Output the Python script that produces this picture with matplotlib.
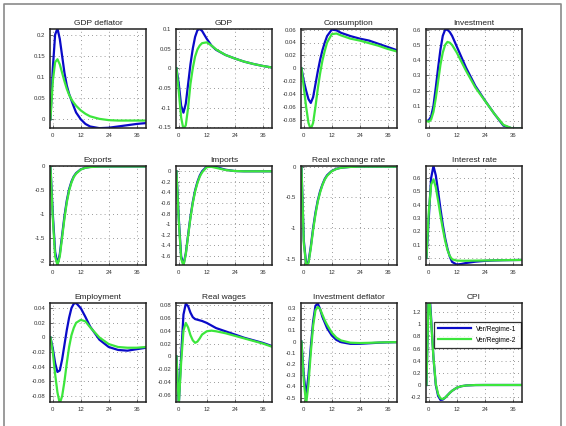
import matplotlib.pyplot as plt
from matplotlib.ticker import FuncFormatter
import numpy as np

plt.rcParams['font.family'] = ['Liberation Sans', 'DejaVu Sans']

# horizons (quarters)
t = [-1, 0, 1, 2, 3, 4, 5, 6, 7, 8, 9, 10, 12, 14, 16, 20, 24, 28, 32, 36, 40]

titles = ["GDP deflator", "GDP", "Consumption", "Investment",
          "Exports", "Imports", "Real exchange rate", "Interest rate",
          "Employment", "Real wages", "Investment deflator", "CPI"]

# regime 1 (blue)
reg1 = [
    [0, 0.12, 0.20, 0.215, 0.19, 0.15, 0.11, 0.08, 0.06, 0.045, 0.03, 0.016, 0.0, -0.011, -0.017, -0.021, -0.02, -0.017, -0.014, -0.011, -0.009],
    [0, -0.04, -0.095, -0.113, -0.09, -0.04, 0.01, 0.05, 0.08, 0.097, 0.1, 0.095, 0.075, 0.058, 0.047, 0.034, 0.025, 0.017, 0.011, 0.006, 0.002],
    [0, -0.02, -0.035, -0.048, -0.054, -0.045, -0.025, -0.005, 0.013, 0.028, 0.04, 0.05, 0.06, 0.059, 0.055, 0.05, 0.046, 0.043, 0.038, 0.033, 0.028],
    [0, 0.005, 0.03, 0.1, 0.22, 0.35, 0.47, 0.56, 0.6, 0.6, 0.585, 0.56, 0.49, 0.42, 0.35, 0.23, 0.137, 0.05, -0.03, -0.05, -0.05],
    [0, -1.0, -1.8, -2.07, -1.85, -1.45, -1.05, -0.72, -0.48, -0.32, -0.21, -0.14, -0.06, -0.025, -0.01, 0, 0, 0, 0, 0, 0],
    [0, -0.9, -1.6, -1.77, -1.55, -1.2, -0.86, -0.58, -0.36, -0.2, -0.08, 0.0, 0.09, 0.1, 0.08, 0.03, 0.005, 0, 0, 0, 0],
    [0, -1.2, -1.58, -1.55, -1.3, -1.0, -0.75, -0.55, -0.4, -0.29, -0.2, -0.14, -0.07, -0.035, -0.017, -0.004, 0, 0, 0, 0, 0],
    [0, 0.3, 0.6, 0.69, 0.62, 0.5, 0.37, 0.25, 0.15, 0.07, 0.01, -0.03, -0.05, -0.045, -0.038, -0.028, -0.022, -0.019, -0.017, -0.016, -0.015],
    [0, -0.015, -0.035, -0.047, -0.045, -0.03, -0.01, 0.01, 0.027, 0.04, 0.046, 0.047, 0.04, 0.028, 0.015, -0.003, -0.013, -0.017, -0.018, -0.016, -0.014],
    [0, -0.075, 0.0, 0.065, 0.082, 0.078, 0.068, 0.061, 0.058, 0.057, 0.056, 0.055, 0.052, 0.048, 0.044, 0.039, 0.034, 0.029, 0.025, 0.021, 0.016],
    [0, -0.3, -0.49, -0.3, -0.05, 0.18, 0.32, 0.34, 0.29, 0.22, 0.17, 0.12, 0.055, 0.015, -0.005, -0.02, -0.02, -0.015, -0.01, -0.007, -0.005],
    [0, 1.7, 1.1, 0.45, 0.0, -0.18, -0.245, -0.24, -0.21, -0.17, -0.13, -0.095, -0.045, -0.02, -0.008, -0.001, 0, 0, 0, 0, 0],
]

# regime 2 (green)
reg2 = [
    [0, 0.09, 0.135, 0.142, 0.13, 0.11, 0.09, 0.072, 0.058, 0.047, 0.039, 0.032, 0.021, 0.013, 0.007, 0.001, -0.002, -0.003, -0.003, -0.003, -0.003],
    [0, -0.06, -0.125, -0.155, -0.145, -0.1, -0.04, 0.0, 0.03, 0.048, 0.058, 0.064, 0.066, 0.058, 0.048, 0.034, 0.025, 0.017, 0.011, 0.006, 0.002],
    [0, -0.03, -0.06, -0.085, -0.095, -0.085, -0.06, -0.032, -0.008, 0.012, 0.027, 0.04, 0.053, 0.054, 0.051, 0.046, 0.043, 0.039, 0.035, 0.03, 0.026],
    [0, -0.005, 0.01, 0.06, 0.15, 0.26, 0.37, 0.45, 0.5, 0.52, 0.515, 0.5, 0.45, 0.39, 0.33, 0.22, 0.135, 0.05, -0.025, -0.05, -0.05],
    [0, -1.1, -1.9, -2.08, -1.9, -1.5, -1.1, -0.76, -0.51, -0.34, -0.22, -0.15, -0.065, -0.028, -0.012, -0.002, 0, 0, 0, 0, 0],
    [0, -0.95, -1.65, -1.78, -1.57, -1.22, -0.88, -0.6, -0.38, -0.22, -0.1, -0.02, 0.08, 0.085, 0.065, 0.025, 0.005, 0, 0, 0, 0],
    [0, -1.25, -1.6, -1.57, -1.33, -1.03, -0.78, -0.57, -0.42, -0.3, -0.21, -0.15, -0.075, -0.038, -0.019, -0.005, 0, 0, 0, 0, 0],
    [0, 0.35, 0.55, 0.59, 0.53, 0.43, 0.32, 0.22, 0.13, 0.06, 0.015, -0.01, -0.02, -0.021, -0.021, -0.02, -0.019, -0.018, -0.017, -0.016, -0.015],
    [0, -0.02, -0.05, -0.075, -0.09, -0.08, -0.06, -0.035, -0.013, 0.003, 0.013, 0.02, 0.024, 0.022, 0.014, 0.0, -0.009, -0.013, -0.014, -0.014, -0.013],
    [0, -0.075, -0.01, 0.04, 0.052, 0.045, 0.033, 0.025, 0.021, 0.023, 0.028, 0.034, 0.039, 0.04, 0.039, 0.036, 0.032, 0.028, 0.024, 0.02, 0.015],
    [0, -0.35, -0.56, -0.38, -0.1, 0.14, 0.28, 0.31, 0.29, 0.24, 0.19, 0.15, 0.08, 0.035, 0.01, -0.01, -0.013, -0.011, -0.008, -0.006, -0.005],
    [0, 1.6, 1.05, 0.45, 0.02, -0.15, -0.22, -0.23, -0.21, -0.17, -0.13, -0.095, -0.045, -0.02, -0.008, -0.001, 0, 0, 0, 0, 0],
]

ylims = [(-0.0206, 0.2135), (-0.152, 0.1), (-0.093, 0.061), (-0.046, 0.605),
         (-2.08, 0.01), (-1.77, 0.1), (-1.6, 0.01), (-0.053, 0.69),
         (-0.088, 0.047), (-0.071, 0.083), (-0.54, 0.345), (-0.28, 1.35)]

yticks = [[0, 0.05, 0.1, 0.15, 0.2],
          [-0.15, -0.1, -0.05, 0, 0.05, 0.1],
          [-0.08, -0.06, -0.04, -0.02, 0, 0.02, 0.04, 0.06],
          [0, 0.1, 0.2, 0.3, 0.4, 0.5, 0.6],
          [-2, -1.5, -1, -0.5, 0],
          [-1.6, -1.4, -1.2, -1, -0.8, -0.6, -0.4, -0.2, 0],
          [-1.5, -1, -0.5, 0],
          [0, 0.1, 0.2, 0.3, 0.4, 0.5, 0.6],
          [-0.08, -0.06, -0.04, -0.02, 0, 0.02, 0.04],
          [-0.06, -0.04, -0.02, 0, 0.02, 0.04, 0.06, 0.08],
          [-0.5, -0.4, -0.3, -0.2, -0.1, 0, 0.1, 0.2, 0.3],
          [-0.2, 0, 0.2, 0.4, 0.6, 0.8, 1, 1.2]]

xticks = [0, 12, 24, 36]

blue = '#0a0ac8'
green = '#3ce63c'

W, H = 566, 426
fig = plt.figure(figsize=(W / 100, H / 100), dpi=100)

# grey frame around the whole figure (open at the bottom)
fig.add_artist(plt.Line2D([4 / W, 4 / W, 561 / W, 561 / W], [0, 1 - 4 / H, 1 - 4 / H, 0],
                          transform=fig.transFigure, color='#8a8a8a', lw=1.2))

lefts = [50, 176, 301, 426]
tops = [29, 166, 303]
aw, ah = 96, 99

for i in range(12):
    r, c = divmod(i, 4)
    ax = fig.add_axes([lefts[c] / W, 1 - (tops[r] + ah) / H, aw / W, ah / H])
    ax.plot(t, reg1[i], color=blue, lw=1.6, label='Ver/Regime-1')
    ax.plot(t, reg2[i], color=green, lw=1.6, label='Ver/Regime-2')
    ax.set_xlim(-1.2, 40)
    ax.set_ylim(*ylims[i])
    ax.set_xticks(xticks)
    ax.set_yticks(yticks[i])
    ax.yaxis.set_major_formatter(FuncFormatter(lambda v, p: '%g' % round(v, 4)))
    ax.tick_params(labelsize=4.3, length=2, width=0.5, direction='in', pad=3.5, colors='#333333')
    ax.grid(True, linestyle=(0, (1, 4)), color='#7a7a7a', lw=0.6)
    for s in ax.spines.values():
        s.set_linewidth(1.1)
        s.set_color('#222222')
    ax.set_title(titles[i], fontsize=6, pad=3, color='#222222')
    if i == 11:
        leg = ax.legend(loc='upper right', bbox_to_anchor=(1.02, 0.845), fontsize=4.8,
                        frameon=True, fancybox=False, handlelength=5.0,
                        borderpad=0.6, labelspacing=0.6)
        leg.get_frame().set_edgecolor('black')
        leg.get_frame().set_linewidth(0.9)

plt.savefig('out.png', dpi=100)
